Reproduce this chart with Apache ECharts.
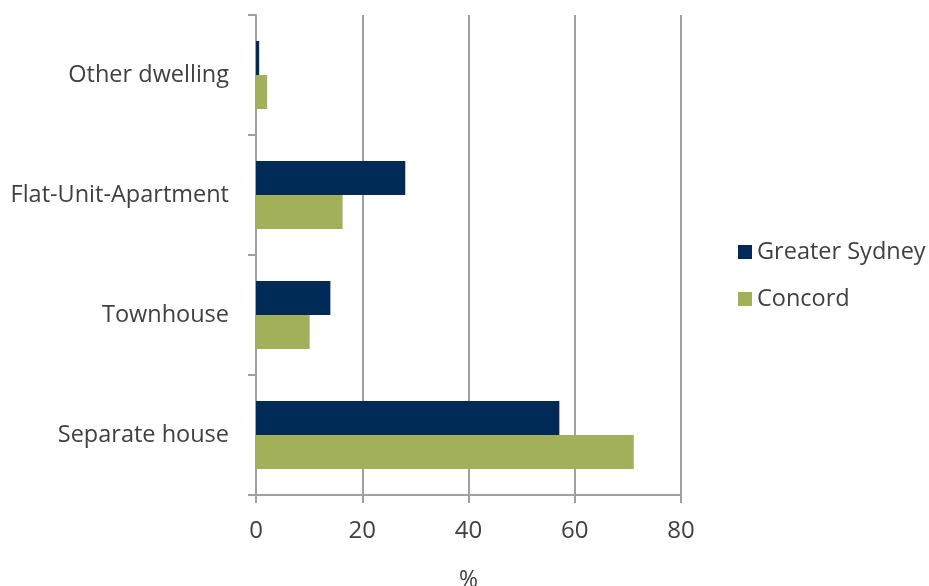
<!DOCTYPE html>
<html>
<head>
<meta charset="utf-8">
<script src="https://cdn.jsdelivr.net/npm/echarts@6/dist/echarts.min.js"></script>
<style>
  html, body { margin: 0; padding: 0; background: #fff; }
  #chart { width: 929px; height: 586px; }
</style>
</head>
<body>
<div id="chart"></div>
<script>
// Dwelling type, share of occupied private dwellings (%)
const categories = ['Separate house', 'Townhouse', 'Flat-Unit-Apartment', 'Other dwelling'];
const greaterSydney = [57.1, 14.0, 28.1, 0.6];
const concord = [71.1, 10.1, 16.3, 2.1];
const xTicks = { min: 0, max: 80, interval: 20 };

const textColor = '#404040';
const lineColor = '#a0a0a0';
const font = 'Open Sans';

const chart = echarts.init(document.getElementById('chart'), null, { renderer: 'canvas' });
chart.setOption({
  animation: false,
  textStyle: { fontFamily: font },
  grid: {
    left: 256, right: 248, top: 15, bottom: 91,
    containLabel: false,
    outerBoundsMode: 'none'
  },
  legend: {
    data: ['Greater Sydney', 'Concord'],
    orient: 'vertical',
    left: 733,
    top: 235,
    icon: 'rect',
    itemWidth: 14,
    itemHeight: 14,
    itemGap: 23,
    textStyle: { color: textColor, fontSize: 23.5, lineHeight: 24, fontFamily: font }
  },
  xAxis: {
    type: 'value',
    min: xTicks.min,
    max: xTicks.max,
    interval: xTicks.interval,
    name: '%',
    nameLocation: 'middle',
    nameGap: 74,
    nameTextStyle: { color: textColor, fontSize: 23, fontFamily: font },
    axisLine: { show: true, lineStyle: { color: lineColor, width: 2 } },
    axisTick: { show: true, length: 8, lineStyle: { color: lineColor, width: 2 } },
    axisLabel: { color: textColor, fontSize: 24, margin: 24, fontFamily: font },
    splitLine: { show: true, lineStyle: { color: lineColor, width: 2 } }
  },
  yAxis: {
    type: 'category',
    data: categories,
    axisLine: { show: true, lineStyle: { color: lineColor, width: 2 } },
    axisTick: { show: true, length: 8, lineStyle: { color: lineColor, width: 2 } },
    axisLabel: { color: textColor, fontSize: 23.5, margin: 27, padding: [4, 0, 0, 0], fontFamily: font }
  },
  series: [
    {
      name: 'Greater Sydney',
      type: 'bar',
      data: greaterSydney,
      barWidth: 34,
      barGap: '0%',
      itemStyle: { color: '#002b57' }
    },
    {
      name: 'Concord',
      type: 'bar',
      data: concord,
      barWidth: 34,
      barGap: '0%',
      itemStyle: { color: '#a2b05a' }
    }
  ]
});
</script>
</body>
</html>
